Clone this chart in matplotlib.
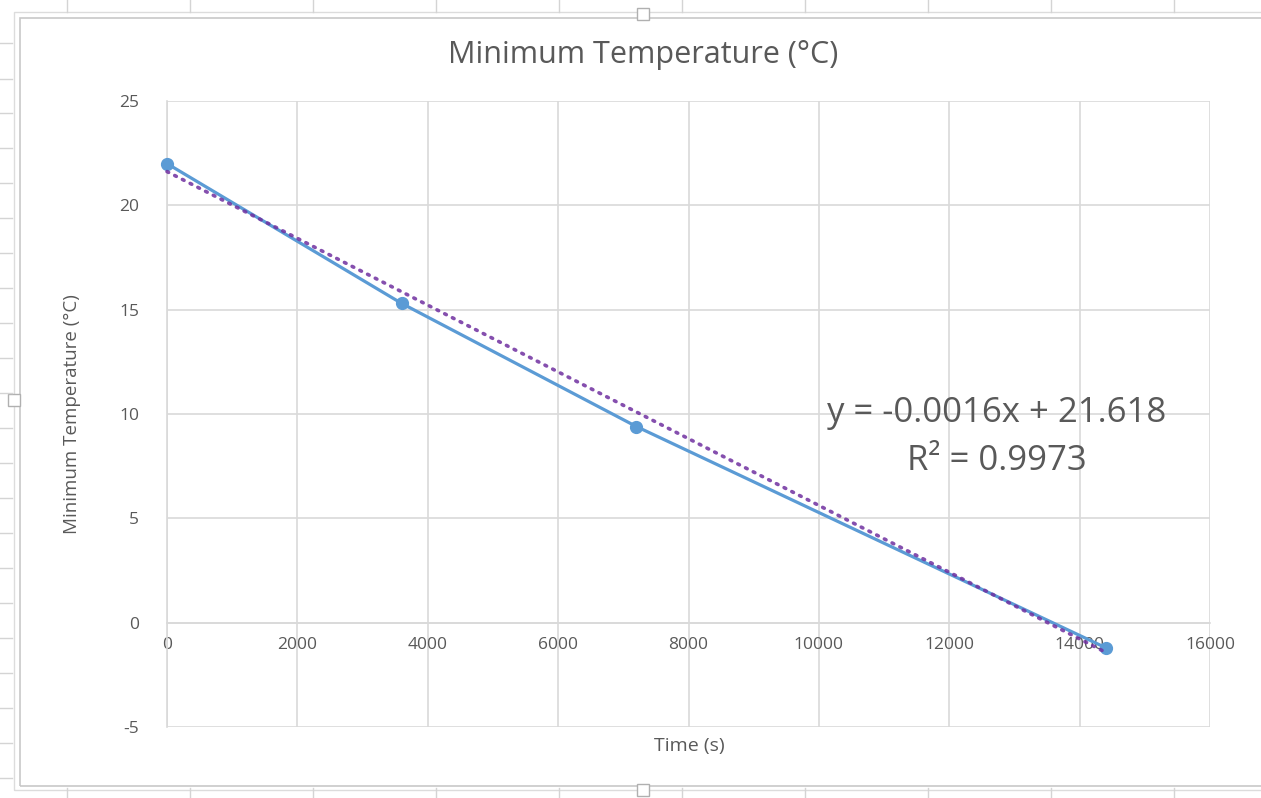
import matplotlib
matplotlib.use("Agg")
import matplotlib.pyplot as plt
from matplotlib.lines import Line2D
from matplotlib.patches import Rectangle
import numpy as np

plt.rcParams['font.family'] = ['Open Sans', 'DejaVu Sans']
plt.rcParams['axes.unicode_minus'] = False

# Data
time_s = [0, 3600, 7200, 14400]
min_temp = [22.0, 15.3, 9.4, -1.2]
trend_slope = -0.0016
trend_intercept = 21.618
r_squared = 0.9973
x_ticks = [0, 2000, 4000, 6000, 8000, 10000, 12000, 14000, 16000]
y_ticks = [-5, 0, 5, 10, 15, 20, 25]

title = "Minimum Temperature (°C)"
xlabel = "Time (s)"
ylabel = "Minimum Temperature (°C)"

W, H = 1261, 798
fig = plt.figure(figsize=(W / 100, H / 100), dpi=100)
fig.patch.set_facecolor("white")

# Spreadsheet background grid (outside chart area)
grid_col = "#d4d4d4"
for x in [67, 190, 313, 436, 559, 682, 805, 928, 1051, 1174]:
    fig.add_artist(Line2D([x / W, x / W], [1 - 0 / H, 1 - 12 / H], color=grid_col, lw=1))
    fig.add_artist(Line2D([x / W, x / W], [1 - 788 / H, 1 - 798 / H], color=grid_col, lw=1))
for y in [43, 79, 113, 148, 183, 218, 253, 288, 323, 358, 393, 428, 463, 498, 533, 568, 603, 638, 673, 708, 743, 778]:
    fig.add_artist(Line2D([0, 12 / W], [1 - y / H, 1 - y / H], color=grid_col, lw=1))
# Chart frame
fig.add_artist(Rectangle((20 / W, 1 - 786 / H), 1.1, (786 - 18) / H, fill=False,
                         edgecolor="#c8c8c8", lw=1.2))
fig.add_artist(Rectangle((14 / W, 1 - 790 / H), 1.1, (790 - 12) / H, fill=False,
                         edgecolor="#dcdcdc", lw=1.0))
for (hx, hy) in [(643, 14), (14, 400), (643, 790)]:
    fig.add_artist(Rectangle(((hx - 6) / W, 1 - (hy + 6) / H), 12 / W, 12 / H,
                             facecolor="white", edgecolor="#b0b0b0", lw=1))

left, right, top, bottom = 167, 1210, 101, 727
ax = fig.add_axes([left / W, 1 - bottom / H, (right - left) / W, (bottom - top) / H])
ax.set_xlim(0, 16000)
ax.set_ylim(-5, 25)
ax.set_xticks(x_ticks)
ax.set_yticks(y_ticks)
ax.grid(True, color="#d9d9d9", lw=1.2)
ax.set_axisbelow(True)
for s in ["top", "right"]:
    ax.spines[s].set_visible(False)
ax.spines["left"].set_color("#d9d9d9")
ax.spines["left"].set_linewidth(1.2)
ax.spines["bottom"].set_position(("data", 0))
ax.spines["bottom"].set_color("#d9d9d9")
ax.spines["bottom"].set_linewidth(1.2)
ax.tick_params(axis="both", length=0, labelsize=12.5, labelcolor="#595959")
ax.tick_params(axis="y", pad=20)
ax.tick_params(axis="x", pad=10)

# Series
ax.plot(time_s, min_temp, color="#5B9BD5", lw=2.3, marker="o", markersize=8.5,
        zorder=3, clip_on=False)
# Trendline
tx = np.array([time_s[0], time_s[-1]])
ax.plot(tx, trend_slope * tx + trend_intercept, color="#7030A0", lw=2.6,
        linestyle=(0, (0.5, 1.9)), dash_capstyle="round", alpha=0.85, zorder=4,
        clip_on=False)

ax.text(997 / W, 1 - 413 / H, f"y = {trend_slope}x + {trend_intercept}",
        transform=fig.transFigure, ha="center", va="center", fontsize=25, color="#595959")
ax.text(997 / W, 1 - 461 / H, f"R² = {r_squared}",
        transform=fig.transFigure, ha="center", va="center", fontsize=25, color="#595959")

fig.text(643 / W, 1 - 55 / H, title, ha="center", va="center", fontsize=22, color="#595959")
fig.text(689 / W, 1 - 746 / H, xlabel, ha="center", va="center", fontsize=14, color="#595959")
fig.text(72 / W, 1 - 414 / H, ylabel, ha="center", va="center", fontsize=13.5,
         color="#595959", rotation=90)

fig.savefig("out.png", dpi=100, facecolor="white")
